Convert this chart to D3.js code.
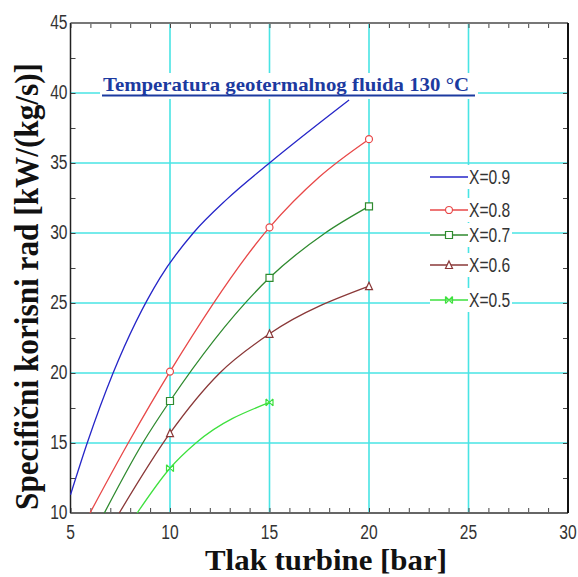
<!DOCTYPE html>
<html><head><meta charset="utf-8">
<script src="https://cdn.jsdelivr.net/npm/d3@7"></script>
<style>body{margin:0;background:#fff}svg{display:block}</style>
</head><body>
<svg id="c" width="578" height="577"></svg>
<script>
const seriesNames = ["X=0.9","X=0.8","X=0.7","X=0.6","X=0.5"];
const seriesColors = ["#2626c8","#e84848","#2f8a2f","#8a3838","#3ee03e"];
const seriesMarkers = ["none","circle","square","triangle","bowtie"];
// pressure [bar] and specific work [kW/(kg/s)]
const x09 = [5.0, 5.84, 7.14, 9.5, 11.17, 12.85, 15, 19];
const y09 = [11.3, 15, 20, 26.8, 30, 32.4, 35, 39.5];
const x08 = [5.98, 7.9, 10, 15, 17.5, 20];
const y08 = [10, 15, 20.1, 30.4, 34.0, 36.7];
const x07 = [6.7, 8.63, 10, 15, 17.8, 20];
const y07 = [10, 15, 18.0, 26.8, 30, 31.9];
const x06 = [7.45, 10, 12.5, 15, 20];
const y06 = [10, 15.7, 20, 22.8, 26.2];
const x05 = [8.35, 10, 11.3, 15];
const y05 = [10, 13.2, 15, 17.9];
const markerX = [10, 15, 20];
const xTicks = [5,10,15,20,25,30];
const yTicks = [10,15,20,25,30,35,40,45];
const titleText = "Temperatura geotermalnog fluida 130 °C";
const xLabel = "Tlak turbine [bar]";
const yLabel = "Specifični korisni rad [kW/(kg/s)]";

const xs = [x09,x08,x07,x06,x05], ys = [y09,y08,y07,y06,y05];
const series = seriesNames.map((n,i)=>({name:n,color:seriesColors[i],marker:seriesMarkers[i],
  pts:xs[i].map((x,j)=>({x,y:ys[i][j]}))}));

const svg = d3.select("#c");
const L=70.5,R=568,T=23,B=513;
const x = d3.scaleLinear().domain([5,30]).range([L,R]);
const y = d3.scaleLinear().domain([10,45]).range([B,T]);
const grid="#48e4e4";
const serif = "'Liberation Serif','Times New Roman',serif";
const tickFont = "'Liberation Sans',Arial,sans-serif";
const narrow = 0.8;

// grid
svg.append("g").selectAll("line").data(xTicks.slice(1)).join("line")
  .attr("x1",d=>x(d)).attr("x2",d=>x(d)).attr("y1",T).attr("y2",B)
  .attr("stroke",grid).attr("stroke-width",1.6);
svg.append("g").selectAll("line").data(yTicks.slice(1,-1)).join("line")
  .attr("x1",L).attr("x2",R).attr("y1",d=>y(d)).attr("y2",d=>y(d))
  .attr("stroke",grid).attr("stroke-width",1.6);

// axes with minor ticks inward
const xMinor = d3.range(5,31,1), yMinor = d3.range(10,45.01,2.5);
const ax = svg.append("g");
ax.append("g").attr("transform",`translate(0,${B})`)
  .call(d3.axisBottom(x).tickValues(xMinor).tickSize(-5).tickFormat(""))
  .call(g=>g.select(".domain").remove()).selectAll("line").attr("stroke","#444");
ax.append("g").attr("transform",`translate(0,${T})`)
  .call(d3.axisTop(x).tickValues(xMinor).tickSize(-5).tickFormat(""))
  .call(g=>g.select(".domain").remove()).selectAll("line").attr("stroke","#444");
ax.append("g").attr("transform",`translate(${L},0)`)
  .call(d3.axisLeft(y).tickValues(yMinor).tickSize(-5).tickFormat(""))
  .call(g=>g.select(".domain").remove()).selectAll("line").attr("stroke","#444");
ax.append("g").attr("transform",`translate(${R},0)`)
  .call(d3.axisRight(y).tickValues(yMinor).tickSize(-5).tickFormat(""))
  .call(g=>g.select(".domain").remove()).selectAll("line").attr("stroke","#444");

// frame
svg.append("line").attr("x1",L).attr("x2",R).attr("y1",T).attr("y2",T).attr("stroke","#777").attr("stroke-width",2);
svg.append("line").attr("x1",L).attr("x2",R).attr("y1",B).attr("y2",B).attr("stroke","#666").attr("stroke-width",2);
svg.append("line").attr("x1",L).attr("x2",L).attr("y1",T).attr("y2",B).attr("stroke","#222").attr("stroke-width",1.5);
svg.append("line").attr("x1",R).attr("x2",R).attr("y1",T).attr("y2",B).attr("stroke","#111").attr("stroke-width",2);

// tick labels (narrow look)
svg.append("g").selectAll("text").data(xTicks).join("text")
  .attr("transform",d=>`translate(${x(d)},539) scale(${narrow},1)`).attr("text-anchor","middle")
  .attr("font-family",tickFont).attr("font-size",19.5).attr("fill","#333").text(d=>d);
svg.append("g").selectAll("text").data(yTicks).join("text")
  .attr("transform",d=>`translate(${L-3},${y(d)+6}) scale(${narrow},1)`).attr("text-anchor","end")
  .attr("font-family",tickFont).attr("font-size",19.5).attr("fill","#333").text(d=>d);

// lines
const line = d3.line().x(d=>x(d.x)).y(d=>y(d.y)).curve(d3.curveMonotoneX);
const plot = svg.append("g");
series.forEach(s=>{
  plot.append("path").attr("d",line(s.pts)).attr("fill","none")
    .attr("stroke",s.color).attr("stroke-width",1.3);
});

function markerPath(type){
  const r=3.5;
  if(type==="circle") return d3.symbol(d3.symbolCircle,38)();
  if(type==="square") return `M${-r},${-r}h${2*r}v${2*r}h${-2*r}Z`;
  if(type==="triangle") return `M0,${-r-0.5}L${r},${r}L${-r},${r}Z`;
  if(type==="bowtie") return `M${-r},${-r}L${r},${r}M${-r},${r}L${r},${-r}M${-r},${-r}L${-r},${r}M${r},${-r}L${r},${r}`;
  return "";
}
series.forEach(s=>{
  if(s.marker==="none") return;
  plot.append("g").selectAll("path").data(s.pts.filter(p=>markerX.includes(p.x))).join("path")
    .attr("transform",d=>`translate(${x(d.x)},${y(d.y)})`)
    .attr("d",markerPath(s.marker)).attr("fill","#fff").attr("stroke",s.color).attr("stroke-width",1.2);
});

// legend
const legY = [177,210,235,265,300];
const leg = svg.append("g");
series.forEach((s,i)=>{
  const g = leg.append("g").attr("transform",`translate(0,${legY[i]})`);
  g.append("rect").attr("x",430).attr("y",-12).attr("width",82).attr("height",24).attr("fill","#fff");
  g.append("line").attr("x1",430).attr("x2",468).attr("y1",0).attr("y2",0).attr("stroke",s.color).attr("stroke-width",1.3);
  if(s.marker!=="none") g.append("path").attr("transform","translate(449,0)").attr("d",markerPath(s.marker))
    .attr("fill","#fff").attr("stroke",s.color).attr("stroke-width",1.2);
  g.append("text").attr("transform",`translate(469,7) scale(${narrow},1)`).attr("font-family",tickFont).attr("font-size",19.5)
    .attr("fill","#333").text(s.name);
});

// title
svg.append("rect").attr("x",100).attr("y",73).attr("width",378).attr("height",26).attr("fill","#fff");
svg.append("text").attr("x",103).attr("y",91).attr("font-family",serif)
  .attr("font-weight","bold").attr("font-size",19.5).attr("fill","#1c3aa0")
  .attr("textLength",366).attr("lengthAdjust","spacingAndGlyphs").text(titleText);
svg.append("line").attr("x1",102).attr("x2",475).attr("y1",95.5).attr("y2",95.5).attr("stroke","#1c3aa0").attr("stroke-width",1.8);

// axis titles
svg.append("text").attr("x",205).attr("y",570)
  .attr("font-family",serif).attr("font-weight","bold")
  .attr("font-size",30).attr("fill","#111")
  .attr("textLength",242).attr("lengthAdjust","spacingAndGlyphs").text(xLabel);
svg.append("text").attr("transform","translate(38,510) rotate(-90)")
  .attr("font-family",serif).attr("font-weight","bold")
  .attr("font-size",34).attr("fill","#111")
  .attr("textLength",447).attr("lengthAdjust","spacingAndGlyphs").text(yLabel);
</script>
</body></html>
